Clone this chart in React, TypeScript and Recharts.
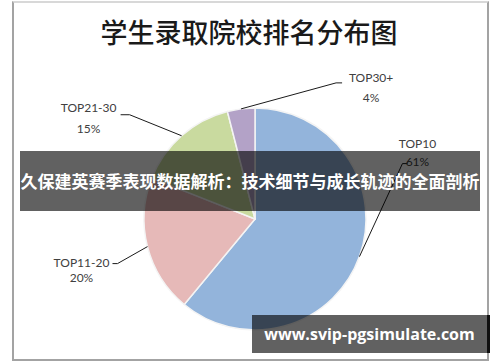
import React from "react";
import { PieChart, Pie, Cell } from "recharts";

const categories = ["TOP10", "TOP11-20", "TOP21-30", "TOP30+"];
const shares = [61, 20, 15, 4];
const percentLabels = ["61%", "20%", "15%", "4%"];
const colors = ["#93B4DB", "#E6B9B8", "#C9DA9F", "#B3A2C7"];

const title = "学生录取院校排名分布图";
const banner = "久保建英赛季表现数据解析：技术细节与成长轨迹的全面剖析";
const watermark = "www.svip-pgsimulate.com";

const data = categories.map((name, i) => ({ name, value: shares[i], pct: percentLabels[i] }));

// label layout offsets relative to the slice's outer-edge midpoint
const labelLayout = [
  { elbow: [43, -93], end: [48, -93], text: [58, -109, -91] },
  { elbow: [-30, 17], end: [-35, 17], text: [-66, 20, 35] },
  { elbow: [-52, -21], end: [-61, -21], text: [-93, -24, -3] },
  { elbow: [95, -26], end: [101, -26], text: [130, -27, -7] },
];

const RAD = Math.PI / 180;

const renderLabel = (props: any) => {
  const { cx, cy, midAngle, outerRadius, index } = props;
  const ex = cx + outerRadius * Math.cos(-midAngle * RAD);
  const ey = cy + outerRadius * Math.sin(-midAngle * RAD);
  const L = labelLayout[index];
  const pts = `${ex},${ey} ${ex + L.elbow[0]},${ey + L.elbow[1]} ${ex + L.end[0]},${ey + L.end[1]}`;
  const tx = ex + L.text[0];
  return (
    <g>
      <polyline points={pts} fill="none" stroke="#1a1a1a" strokeWidth={1} />
      <text x={tx} y={ey + L.text[1]} textAnchor="middle" fontFamily="Lato, 'Open Sans', sans-serif" fontSize={12} fill="#404040">
        {data[index].name}
      </text>
      <text x={tx} y={ey + L.text[2]} textAnchor="middle" fontFamily="Lato, 'Open Sans', sans-serif" fontSize={12} fill="#404040">
        {data[index].pct}
      </text>
    </g>
  );
};

export default function App() {
  return (
    <div style={{ position: "absolute", left: 0, top: 0, width: 500, height: 362, background: "#fff", overflow: "hidden" }}>
      <div style={{ position: "absolute", left: 12, top: 1, width: 473, height: 356, border: "2px solid #a3a3a3", borderTopColor: "#d8d8d8", boxSizing: "content-box" }} />
      <div style={{ position: "absolute", left: 0, top: 12, width: 498, textAlign: "center", fontFamily: "'Noto Sans CJK SC', sans-serif", fontWeight: 500, fontSize: 27, lineHeight: "40px", color: "#1a1a1a" }}>
        {title}
      </div>
      <div style={{ position: "absolute", left: 0, top: 0 }}>
        <PieChart width={500} height={362}>
          <Pie
            data={data}
            dataKey="value"
            nameKey="name"
            cx={250}
            cy={214}
            outerRadius={111}
            startAngle={90}
            endAngle={-270}
            stroke="#f4f4f4"
            strokeWidth={1.5}
            label={renderLabel}
            labelLine={false}
            isAnimationActive={false}
          >
            {data.map((d, i) => (
              <Cell key={d.name} fill={colors[i]} />
            ))}
          </Pie>
        </PieChart>
      </div>
      <div style={{ position: "absolute", left: 20, top: 151, width: 460, height: 60, background: "rgba(0,0,0,0.62)", color: "#fff", fontFamily: "'Noto Sans CJK SC', sans-serif", fontWeight: 700, fontSize: 17, lineHeight: "60px", textAlign: "center", whiteSpace: "nowrap" }}>
        {banner}
      </div>
      <div style={{ position: "absolute", left: 252, top: 315, width: 235, height: 38, background: "rgba(0,0,0,0.62)", color: "#fff", fontFamily: "'Open Sans', sans-serif", fontWeight: 700, fontSize: 16, lineHeight: "38px", textAlign: "center", whiteSpace: "nowrap" }}>
        {watermark}
      </div>
      <div style={{ position: "absolute", left: 487, top: 315, width: 3, height: 38, background: "#111" }} />
    </div>
  );
}
